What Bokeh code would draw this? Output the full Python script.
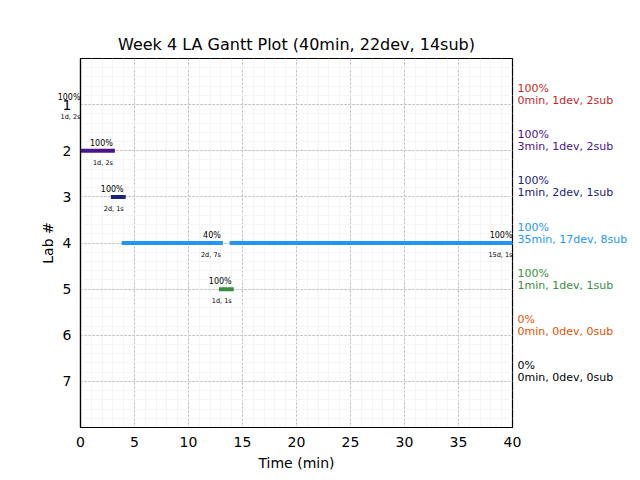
import numpy as np
from bokeh.plotting import figure
from bokeh.layouts import row
from bokeh.models import ColumnDataSource, Range1d, FixedTicker
from bokeh.core.properties import value
from bokeh.embed import file_html
from bokeh.resources import INLINE

# ---- data ----
labs = [1, 2, 3, 4, 5, 6, 7]
lab_colors = ["#c62828", "#4a148c", "#1a237e", "#2196f3", "#388e3c", "#e65100", "#000000"]
lab_pct = ["100%", "100%", "100%", "100%", "100%", "0%", "0%"]
lab_minutes = [0, 3, 1, 35, 1, 0, 0]
lab_devs = [1, 1, 2, 17, 1, 0, 0]
lab_subs = [2, 2, 1, 8, 1, 0, 0]

seg_lab = [1, 2, 3, 4, 4, 5]
seg_start = [0, 0, 3, 4, 14, 13]
seg_end = [0, 3, 4, 13, 40, 14]
seg_pct = ["100%", "100%", "100%", "40%", "100%", "100%"]
seg_info = ["1d, 2s", "1d, 2s", "2d, 1s", "2d, 7s", "15d, 1s", "1d, 1s"]

title = "Week 4 LA Gantt Plot (40min, 22dev, 14sub)"
x_min, x_max = 0, 40
y_top, y_bot = 0, 8
FONT = "DejaVu Sans"

# layout constants (pixels)
W, H = 636, 476
ML, MR, MT, MB = 80, 124, 58, 49
FW = W - ML - MR

p = figure(width=W, height=H, output_backend="svg", toolbar_location=None,
           x_range=Range1d(x_min, x_max), y_range=Range1d(y_bot, y_top),
           min_border_left=ML, min_border_right=MR, min_border_top=MT, min_border_bottom=MB,
           title=title)
p.title.align = "center"
p.title.text_font = FONT
p.title.text_font_size = "16px"
p.title.text_font_style = "normal"
p.title.text_color = "black"

seg_color = [lab_colors[l - 1] for l in seg_lab]
draw = [i for i in range(len(seg_lab)) if seg_end[i] > seg_start[i]]
bars = ColumnDataSource(dict(
    x0=[seg_start[i] for i in draw], x1=[seg_end[i] for i in draw],
    y=[seg_lab[i] for i in draw], c=[seg_color[i] for i in draw]))
p.segment(x0="x0", y0="y", x1="x1", y1="y", source=bars, line_color="c",
          line_width=4, line_cap="square")

# axes
p.xaxis.ticker = FixedTicker(ticks=list(range(0, 41, 5)), minor_ticks=list(range(0, 41)))
p.yaxis.ticker = FixedTicker(ticks=labs, minor_ticks=list(np.round(np.arange(0, 8.01, 0.2), 2)))
p.xaxis.axis_label = "Time (min)"
p.yaxis.axis_label = "Lab #"
for ax in (p.xaxis, p.yaxis):
    ax.major_tick_out = 0
    ax.major_tick_in = 0
    ax.minor_tick_out = 0
    ax.minor_tick_in = 0
    ax.axis_line_color = "black"
    ax.axis_line_width = 1.2
    ax.major_label_text_font = FONT
    ax.major_label_text_font_size = "14px"
    ax.major_label_text_color = "black"
    ax.axis_label_text_font = FONT
    ax.axis_label_text_font_size = "14px"
    ax.axis_label_text_font_style = "normal"
    ax.axis_label_text_color = "black"
p.xaxis.major_label_standoff = 9
p.yaxis.major_label_standoff = 9
p.xaxis.axis_label_standoff = 5
p.yaxis.axis_label_standoff = 4

p.outline_line_color = "black"
p.outline_line_width = 1.2
for g in (p.xgrid, p.ygrid):
    g.grid_line_color = "#b8b8b8"
    g.grid_line_dash = "2 2"
    g.grid_line_width = 1
    g.minor_grid_line_color = "#f5f5f5"
    g.minor_grid_line_width = 1

# transparent overlay figure: same y scale (shared range, same vertical borders), and an
# x scale with the same px/min whose frame spans the whole width, so that texts hanging
# outside the main plot area are not clipped
sx = (x_max - x_min) / FW
q = figure(width=W, height=H, output_backend="svg", toolbar_location=None,
           x_range=Range1d(x_min - ML * sx, x_max + MR * sx), y_range=p.y_range,
           min_border_left=0, min_border_right=0, min_border_top=MT, min_border_bottom=MB,
           x_axis_type=None, y_axis_type=None)
q.grid.visible = False
q.outline_line_color = None
q.background_fill_color = None
q.border_fill_color = None
q.margin = (0, 0, 0, -W)

lbl = ColumnDataSource(dict(x=seg_end, y=seg_lab, pct=seg_pct, info=seg_info))
q.text(x="x", y="y", text="pct", source=lbl, text_align="right", text_baseline="bottom",
       y_offset=-3, text_font=value(FONT), text_font_size="8px", text_color="black")
q.text(x="x", y="y", text="info", source=lbl, text_align="right", text_baseline="top",
       y_offset=8, text_font=value(FONT), text_font_size="6.5px", text_color="black")

right = ColumnDataSource(dict(
    x=[x_max] * len(labs), y=labs, c=lab_colors, pct=lab_pct,
    info=[f"{m}min, {d}dev, {s}sub" for m, d, s in zip(lab_minutes, lab_devs, lab_subs)]))
q.text(x="x", y="y", text="pct", source=right, x_offset=5, y_offset=-16,
       text_baseline="middle", text_font=value(FONT), text_font_size="11px", text_color="c")
q.text(x="x", y="y", text="info", source=right, x_offset=5, y_offset=-4,
       text_baseline="middle", text_font=value(FONT), text_font_size="11px", text_color="c")

layout = row(p, q)
open("out.html", "w").write(file_html(layout, INLINE))
